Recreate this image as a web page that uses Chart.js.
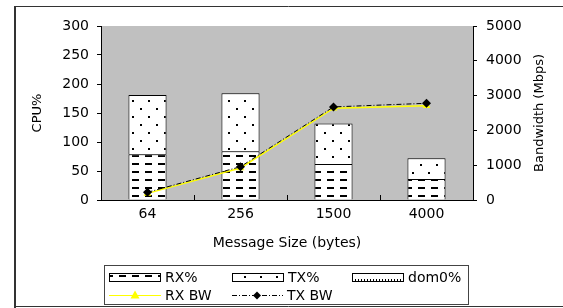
<!DOCTYPE html>
<html>
<head>
<meta charset="utf-8">
<script src="https://cdn.jsdelivr.net/npm/chart.js@4"></script>
<style>
html,body{margin:0;padding:0;background:#fff;}
#wrap{width:563px;height:308px;position:relative;}
</style>
</head>
<body>
<div id="wrap"><canvas id="c"></canvas></div>
<script>
const categories = ['64', '256', '1500', '4000'];
const rxCpu = [79, 84, 62, 36];
const txCpu = [102, 100, 70, 36];
const dom0Cpu = [0, 0, 0, 0];
const rxBw = [190, 920, 2640, 2710];
const txBw = [221, 957, 2675, 2779];
const cpuTicks = [0, 50, 100, 150, 200, 250, 300];
const bwTicks = [0, 1000, 2000, 3000, 4000, 5000];

const FONT = 'DejaVu Sans';

function makePattern(w, h, draw) {
  const c = document.createElement('canvas');
  c.width = w; c.height = h;
  const g = c.getContext('2d');
  g.fillStyle = '#fff'; g.fillRect(0, 0, w, h);
  g.fillStyle = '#000';
  draw(g);
  return document.getElementById('c').getContext('2d').createPattern(c, 'repeat');
}
const dashPat = makePattern(13, 8, g => { g.fillRect(2, 3, 7, 2); });
const dotPat = makePattern(16, 16, g => { g.fillRect(4, 4, 2, 2); g.fillRect(12, 12, 2, 2); });
const rulerPat = makePattern(3, 9, g => { g.fillRect(1, 0, 1, 3); });

const bgPlugin = {
  id: 'bg',
  beforeDraw(chart) {
    const {ctx, chartArea: a} = chart;
    ctx.save();
    ctx.fillStyle = '#fff';
    ctx.fillRect(0, 0, chart.width, chart.height);
    ctx.fillStyle = '#c0c0c0';
    ctx.fillRect(a.left, a.top, a.right - a.left, a.bottom - a.top);
    ctx.restore();
  },
  afterDraw(chart) {
    const {ctx, chartArea: a} = chart;
    ctx.save();
    // inner x ticks at category boundaries
    ctx.strokeStyle = '#000'; ctx.lineWidth = 1;
    const step = (a.right - a.left) / categories.length;
    for (let i = 1; i < categories.length; i++) {
      const px = Math.round(a.left + step * i) + 0.5;
      ctx.beginPath(); ctx.moveTo(px, a.bottom); ctx.lineTo(px, a.bottom - 5); ctx.stroke();
    }
    // right title
    ctx.fillStyle = '#000';
    ctx.font = '13px "' + FONT + '"';
    ctx.textAlign = 'center'; ctx.textBaseline = 'middle';
    ctx.translate(540, (a.top + a.bottom) / 2);
    ctx.rotate(-Math.PI / 2);
    ctx.fillText('Bandwidth (Mbps)', 0, 0);
    ctx.restore();

    // outer frame
    ctx.save();
    ctx.strokeStyle = '#333';
    ctx.lineWidth = 2;
    ctx.beginPath(); ctx.moveTo(15, 6); ctx.lineTo(15, 308); ctx.stroke();
    ctx.lineWidth = 1;
    ctx.beginPath(); ctx.moveTo(14, 6.5); ctx.lineTo(563, 6.5); ctx.stroke();
    ctx.beginPath(); ctx.moveTo(14, 306.5); ctx.lineTo(563, 306.5); ctx.stroke();

    // legend
    ctx.strokeStyle = '#444';
    ctx.strokeRect(104.5, 265.5, 364, 39);
    ctx.font = '14px "' + FONT + '"';
    ctx.textAlign = 'left'; ctx.textBaseline = 'middle';
    ctx.fillStyle = '#000';
    const ds = chart.data.datasets;
    const sw = [
      {x: 109, y: 277, ds: ds[2], pat: dashPat},
      {x: 232, y: 277, ds: ds[3], pat: dotPat},
      {x: 352, y: 277, ds: ds[4], pat: rulerPat}
    ];
    sw.forEach(s => {
      ctx.fillStyle = s.pat;
      ctx.fillRect(s.x, s.y - 4, 51, 9);
      ctx.strokeStyle = '#000'; ctx.lineWidth = 1;
      ctx.strokeRect(s.x + 0.5, s.y - 3.5, 51, 8);
      ctx.fillStyle = '#000';
      ctx.fillText(s.ds.label, s.x + 56, s.y + 1);
    });
    // RX BW
    const ly = 295.5;
    ctx.strokeStyle = '#ffff00'; ctx.lineWidth = 1;
    ctx.beginPath(); ctx.moveTo(109, ly); ctx.lineTo(161, ly); ctx.stroke();
    ctx.fillStyle = '#ffff00';
    ctx.beginPath(); ctx.moveTo(135, ly - 5); ctx.lineTo(139.5, ly + 3); ctx.lineTo(130.5, ly + 3); ctx.closePath(); ctx.fill();
    ctx.fillStyle = '#000';
    ctx.fillText(ds[1].label, 165, ly + 1);
    // TX BW
    ctx.strokeStyle = '#000';
    ctx.setLineDash([5, 2, 1, 2]);
    ctx.beginPath(); ctx.moveTo(232, ly); ctx.lineTo(283, ly); ctx.stroke();
    ctx.setLineDash([]);
    ctx.beginPath(); ctx.moveTo(257, ly - 4); ctx.lineTo(261, ly); ctx.lineTo(257, ly + 4); ctx.lineTo(253, ly); ctx.closePath(); ctx.fill();
    ctx.fillText(ds[0].label, 287, ly + 1);
    ctx.restore();
  }
};

new Chart(document.getElementById('c'), {
  data: {
    labels: categories,
    datasets: [
      {type: 'line', label: 'TX BW', data: txBw, yAxisID: 'y2', order: 0,
       borderColor: '#000', borderWidth: 1, borderDash: [5, 2, 1, 2],
       pointStyle: 'rectRot', pointRadius: 4.5, pointBackgroundColor: '#000', pointBorderColor: '#000', pointBorderWidth: 0},
      {type: 'line', label: 'RX BW', data: rxBw, yAxisID: 'y2', order: 1,
       borderColor: '#ffff00', borderWidth: 1.5,
       pointStyle: 'triangle', pointRadius: 4.5, pointBackgroundColor: '#ffff00', pointBorderColor: '#ffff00', pointBorderWidth: 0},
      {type: 'bar', label: 'RX%', data: rxCpu, yAxisID: 'y', stack: 's', order: 2,
       backgroundColor: dashPat, borderColor: '#000', borderWidth: 1},
      {type: 'bar', label: 'TX%', data: txCpu, yAxisID: 'y', stack: 's', order: 2,
       backgroundColor: dotPat, borderColor: '#000', borderWidth: 1},
      {type: 'bar', label: 'dom0%', data: dom0Cpu, yAxisID: 'y', stack: 's', order: 2,
       backgroundColor: rulerPat, borderColor: '#000', borderWidth: 1}
    ]
  },
  options: {
    responsive: true,
    maintainAspectRatio: false,
    animation: false,
    devicePixelRatio: 1,
    layout: {padding: {left: 20, right: 0, top: 26, bottom: 56}},
    plugins: {legend: {display: false}, tooltip: {enabled: false}},
    datasets: {bar: {categoryPercentage: 1, barPercentage: 0.41}},
    scales: {
      x: {
        stacked: true,
        grid: {display: false, drawTicks: false},
        border: {display: true, color: '#000', width: 1},
        ticks: {color: '#000', font: {family: FONT, size: 14}, padding: 6, maxRotation: 0},
        title: {display: true, text: 'Message Size (bytes)', color: '#000', font: {family: FONT, size: 14}, padding: {top: 0, bottom: 0}},
        afterFit(s) { s.height = 52; }
      },
      y: {
        position: 'left', stacked: true, min: 0, max: 300,
        afterBuildTicks(s) { s.ticks = cpuTicks.map(v => ({value: v})); },
        grid: {drawOnChartArea: false, color: '#000', tickLength: 4},
        border: {display: true, color: '#000', width: 1},
        ticks: {color: '#000', font: {family: FONT, size: 14}, padding: 8, callback: v => String(v)},
        title: {display: true, text: 'CPU%', color: '#000', font: {family: FONT, size: 13}, padding: {top: 10, bottom: 0}},
        afterFit(s) { s.width = 81; }
      },
      y2: {
        position: 'right', min: 0, max: 5000,
        afterBuildTicks(s) { s.ticks = bwTicks.map(v => ({value: v})); },
        grid: {drawOnChartArea: false, color: '#000', tickLength: 4},
        border: {display: true, color: '#000', width: 1},
        ticks: {color: '#000', font: {family: FONT, size: 14}, padding: 9, callback: v => String(v)},
        afterFit(s) { s.width = 90; }
      }
    }
  },
  plugins: [bgPlugin]
});
</script>
</body>
</html>
